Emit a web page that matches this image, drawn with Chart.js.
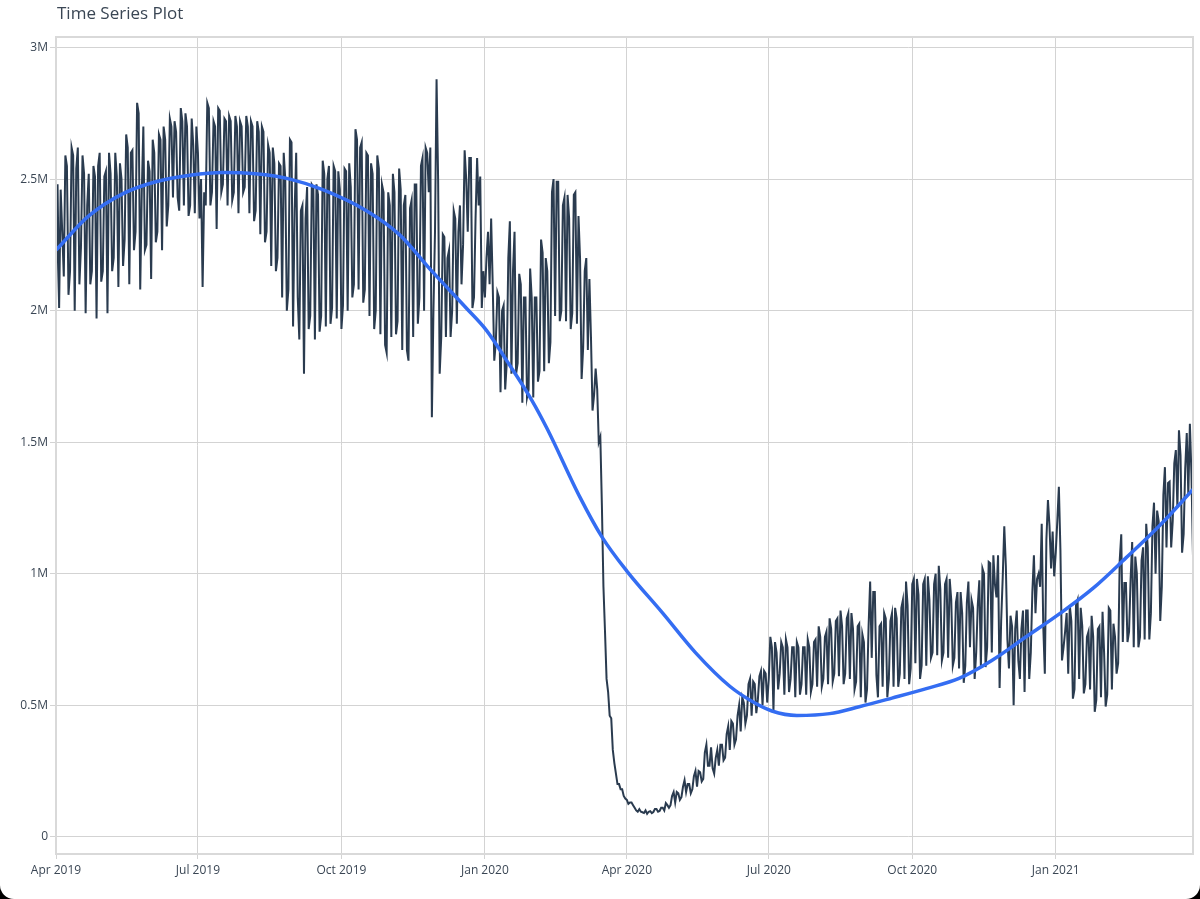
<!DOCTYPE html>
<html>
<head>
<meta charset="utf-8">
<script src="https://cdn.jsdelivr.net/npm/chart.js@4.4.0/dist/chart.umd.min.js"></script>
<style>
  html, body { margin: 0; padding: 0; background: #000; }
  #wrap { position: relative; width: 1200px; height: 899px; background: #fff; border-radius: 0 0 14px 14px; overflow: hidden; }
  #title { position: absolute; left: 57px; top: 1px; font: 17px 'Open Sans', sans-serif; color: #3a4654; line-height: 24px; }
  canvas { position: absolute; left: 0; top: 0; }
</style>
</head>
<body>
<div id="wrap">
  <canvas id="tsChart" width="1200" height="899"></canvas>
  <div id="title">Time Series Plot</div>
</div>
<script>
// daily values in thousands, one week (Mon..Sun) per line
// Apr 1 2019 .. Dec 29 2019
const daily2019 = [
  2030, 2480, 2010, 2460, 2300, 2130, 2590,
  2550, 2060, 2150, 2620, 2590, 2000, 2540,
  2620, 2100, 2240, 2590, 2520, 1990, 2400,
  2520, 2100, 2150, 2550, 2510, 1970, 2550,
  2600, 2110, 2150, 2510, 2530, 1990, 2600,
  2520, 2150, 2200, 2600, 2510, 2090, 2560,
  2500, 2170, 2270, 2670, 2620, 2100, 2600,
  2610, 2230, 2300, 2790, 2750, 2080, 2450,
  2700, 2230, 2250, 2570, 2530, 2120, 2650,
  2600, 2260, 2300, 2670, 2650, 2230, 2700,
  2650, 2320, 2400, 2730, 2700, 2430, 2720,
  2680, 2430, 2380, 2770, 2720, 2400, 2750,
  2700, 2360, 2400, 2730, 2630, 2370, 2700,
  2600, 2350, 2500, 2090, 2450, 2400, 2790,
  2770, 2400, 2450, 2720, 2700, 2310, 2770,
  2760, 2450, 2480, 2730, 2720, 2400, 2740,
  2720, 2420, 2450, 2740, 2700, 2370, 2720,
  2700, 2450, 2470, 2740, 2700, 2370, 2720,
  2700, 2340, 2380, 2720, 2680, 2290, 2700,
  2680, 2260, 2300, 2630, 2600, 2170, 2620,
  2560, 2150, 2200, 2560, 2550, 2050, 2600,
  2500, 2000, 2080, 2650, 2640, 1940, 2380,
  2600, 2050, 1890, 2380, 2400, 1760, 2350,
  2470, 1930, 1980, 2480, 2470, 1890, 2480,
  2440, 1920, 1980, 2570, 2520, 1940, 2500,
  2550, 1950, 2010, 2550, 2530, 1970, 2530,
  2460, 1930, 2020, 2540, 2530, 2000, 2560,
  2470, 2050, 2100, 2690, 2650, 2080, 2620,
  2640, 2030, 2080, 2600, 2590, 1980, 2560,
  2520, 1930, 2000, 2590, 2540, 1910, 2480,
  2450, 1870, 1840, 2450, 2400, 1900, 2520,
  2450, 1910, 1960, 2540, 2460, 1850, 2400,
  2440, 1850, 1810, 2390, 2420, 1900, 2480,
  2480, 1950, 2050, 2550, 2580, 2000, 2620,
  2600, 2450, 2620, 1595, 2000, 2300, 2880,
  2500, 1760, 1900, 2290, 2280, 1900, 2200,
  2230, 1900, 2000, 2380, 2350, 1950, 2300,
  2400, 2100, 2250, 2610, 2500, 2300, 2580,
  2580, 2010, 2050, 2350, 2580, 2400, 2510
];
// Dec 30 2019 .. Jan 3 2021
const daily2020 = [
  2010, 2150, 2050, 2200, 2300, 2100, 2350,
  2100, 1810, 1880, 2070, 2050, 1690, 2000,
  2020, 1700, 1800, 2200, 2340, 1760, 2150,
  2300, 1760, 1800, 2140, 2100, 1650, 2050,
  2050, 1670, 1700, 2160, 2050, 1670, 2050,
  2050, 1730, 1770, 2270, 2220, 1770, 2200,
  2150, 1800, 1880, 2450, 2500, 1980, 2490,
  2490, 1960, 2000, 2400, 2430, 1960, 2440,
  2350, 1930, 1990, 2440, 2450, 1950, 2360,
  2200, 1740, 1860, 2150, 2200, 1850, 2120,
  1900, 1620, 1680, 1780, 1700, 1500, 1520,
  1260, 950, 780, 600, 550, 460, 450,
  330, 280, 240, 200, 200, 180, 180,
  155, 145, 140, 125, 130, 130, 120,
  110, 100, 95, 105, 95, 93, 90,
  100, 87, 95, 97, 90, 94, 105,
  105, 95, 98, 110, 110, 100, 128,
  120, 110, 120, 155, 170, 130, 170,
  165, 140, 150, 190, 215, 170, 200,
  200, 165, 180, 230, 250, 190, 250,
  245, 210, 220, 320, 350, 270, 270,
  340, 260, 240, 300, 330, 270, 350,
  350, 290, 300, 390, 420, 330, 440,
  430, 350, 370, 460, 500, 400, 530,
  510, 430, 460, 580, 600, 460, 590,
  580, 470, 520, 610, 630, 500, 630,
  620, 510, 600, 760, 720, 480, 740,
  700, 560, 620, 740, 720, 540, 750,
  720, 550, 600, 720, 720, 530, 740,
  720, 540, 580, 720, 720, 540, 750,
  720, 550, 580, 740, 750, 570, 800,
  760, 570, 600, 760, 780, 580, 830,
  790, 590, 620, 820, 830, 610, 860,
  800, 580, 620, 830, 850, 600, 850,
  790, 560, 590, 800, 810, 530, 770,
  740, 510, 560, 800, 970, 680, 930,
  930, 615, 530, 800, 810, 570, 850,
  830, 530, 600, 820, 850, 570, 870,
  830, 570, 620, 870, 900, 600, 970,
  880, 580, 640, 960, 980, 660, 980,
  920, 600, 650, 960, 980, 650, 990,
  900, 680, 700, 960, 1000, 690, 1030,
  940, 670, 700, 960, 980, 680, 980,
  900, 650, 680, 890, 930, 640, 930,
  850, 585, 650, 890, 970, 720, 900,
  870, 600, 700, 880, 975, 645, 1020,
  1000, 645, 720, 1045, 1040, 700, 1070,
  960, 910, 1070, 565, 820, 985, 1180,
  1030, 750, 640, 840, 800, 500, 790,
  860, 670, 600, 790, 860, 550, 860,
  860, 600, 700, 930, 1070, 850, 980,
  1000, 950, 1190, 800, 620, 1130, 1280,
  1180, 1020, 1160, 990, 1080, 1200, 1330
];
// Jan 4 2021 .. Mar 30 2021
const daily2021 = [
  1090, 670, 720, 780, 850, 620, 880,
  820, 525, 560, 880, 900, 600, 870,
  800, 545, 580, 760, 780, 560, 840,
  760, 475, 520, 790, 800, 530, 855,
  700, 495, 540, 870, 860, 560, 810,
  760, 620, 660, 1050, 1150, 740, 965,
  965, 740, 780, 980, 1120, 720, 1065,
  1000, 720, 760, 1050, 1100, 750, 1190,
  1100, 750, 850, 1180, 1270, 1000, 1240,
  1200, 820, 950, 1300, 1405, 1100, 1345,
  1350, 1100, 1200, 1420, 1470, 1250, 1545,
  1450, 1080, 1150, 1400, 1535, 1300, 1570,
  1380, 1065
];

// smoothed trend, day offset from Apr 1 2019 and value in thousands
const trendDays = [0, 21, 43, 64, 86, 107, 128, 150, 171, 199, 220, 241, 263, 276, 289, 305, 315, 336, 350, 366, 389, 410, 432, 447, 459, 475, 496, 515, 536, 558, 579, 600, 622, 644, 665, 686, 708, 729];
const trendValues = [2230, 2360, 2445, 2490, 2515, 2525, 2520, 2500, 2460, 2380, 2290, 2150, 2010, 1925, 1810, 1660, 1550, 1290, 1140, 1010, 850, 700, 572, 512, 478, 461, 468, 494, 527, 563, 602, 670, 760, 850, 945, 1060, 1185, 1320];

// x ticks (day offsets of quarter starts)
const xTickDays = [0, 91, 183, 275, 366, 457, 549, 641];
const xTickLabels = ['Apr 2019', 'Jul 2019', 'Oct 2019', 'Jan 2020', 'Apr 2020', 'Jul 2020', 'Oct 2020', 'Jan 2021'];
const yTicks = [0, 0.5, 1, 1.5, 2, 2.5, 3]; // millions

const daily = daily2019.concat(daily2020, daily2021);
const dailyPoints = daily.map((v, i) => ({ x: i, y: v * 1000 }));
const trendPoints = trendDays.map((d, i) => ({ x: d, y: trendValues[i] * 1000 }));

const gridColor = '#d3d3d3';
const textColor = '#3a4654';

// frame around the plot area
const plotBox = {
  id: 'plotBox',
  afterDraw(chart) {
    const a = chart.chartArea;
    const ctx = chart.ctx;
    ctx.save();
    ctx.strokeStyle = '#d9d9d9';
    ctx.lineWidth = 2;
    ctx.strokeRect(a.left, a.top, a.right - a.left, a.bottom - a.top);
    ctx.restore();
  }
};

const ctx = document.getElementById('tsChart').getContext('2d');
new Chart(ctx, {
  type: 'line',
  data: {
    datasets: [
      {
        label: 'trend',
        data: trendPoints,
        borderColor: '#346df2',
        borderWidth: 3.5,
        pointRadius: 0,
        cubicInterpolationMode: 'monotone',
        order: 0
      },
      {
        label: 'daily',
        data: dailyPoints,
        borderColor: '#2a3b4f',
        borderWidth: 2,
        pointRadius: 0,
        tension: 0,
        order: 1
      }
    ]
  },
  options: {
    responsive: false,
    animation: false,
    layout: { padding: { top: 37, right: 7, bottom: 0, left: 0 } },
    plugins: {
      legend: { display: false },
      tooltip: { enabled: false }
    },
    scales: {
      x: {
        type: 'linear',
        min: 0,
        max: 729,
        afterBuildTicks: scale => { scale.ticks = xTickDays.map(v => ({ value: v })); },
        afterFit: scale => { scale.height = 45; },
        grid: { color: gridColor, tickColor: gridColor, tickLength: 5, drawTicks: true },
        border: { display: false },
        ticks: {
          autoSkip: false,
          maxRotation: 0,
          padding: 4,
          color: textColor,
          font: { family: "'Open Sans', sans-serif", size: 12 },
          callback: value => xTickLabels[xTickDays.indexOf(value)]
        }
      },
      y: {
        min: -65700,
        max: 3040300,
        afterBuildTicks: scale => { scale.ticks = yTicks.map(v => ({ value: v * 1e6 })); },
        afterFit: scale => { scale.width = 56; },
        grid: { color: gridColor, tickColor: gridColor, tickLength: 6, drawTicks: true },
        border: { display: false },
        ticks: {
          padding: 2,
          color: textColor,
          font: { family: "'Open Sans', sans-serif", size: 12 },
          callback: value => value === 0 ? '0' : (value / 1e6) + 'M'
        }
      }
    }
  },
  plugins: [plotBox]
});
</script>
</body>
</html>
